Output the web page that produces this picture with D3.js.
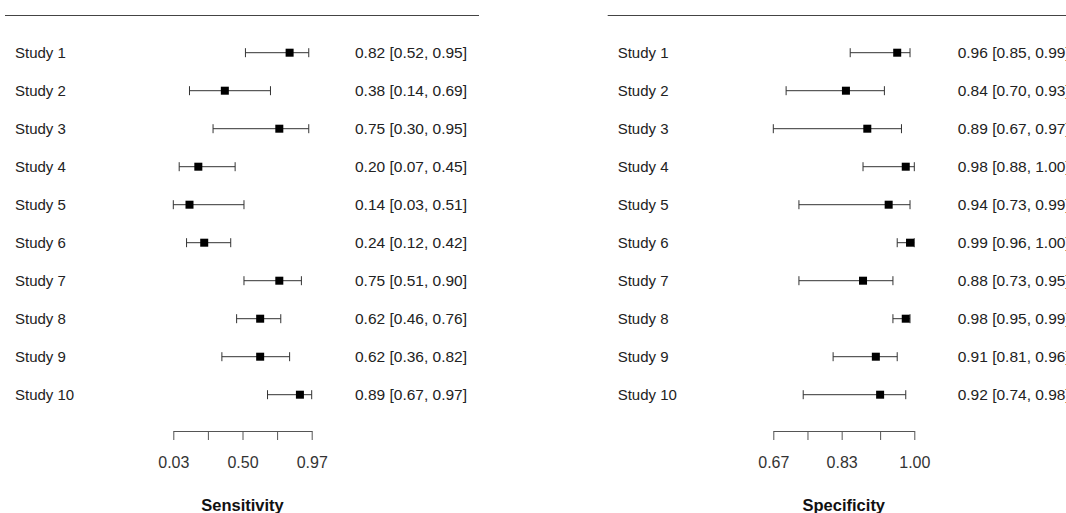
<!DOCTYPE html>
<html>
<head>
<meta charset="utf-8">
<script src="https://cdn.jsdelivr.net/npm/d3@7"></script>
<style>
  body { margin: 0; background: #fff; overflow: hidden; }
  text { font-family: "Liberation Sans", Arial, sans-serif; }
</style>
</head>
<body>
<div id="chart"></div>
<script>

// studies, point estimates and 95% CIs
const studies = ["Study 1", "Study 2", "Study 3", "Study 4", "Study 5",
                 "Study 6", "Study 7", "Study 8", "Study 9", "Study 10"];

const sensEst   = [0.82, 0.38, 0.75, 0.20, 0.14, 0.24, 0.75, 0.62, 0.62, 0.89];
const sensLower = [0.52, 0.14, 0.30, 0.07, 0.03, 0.12, 0.51, 0.46, 0.36, 0.67];
const sensUpper = [0.95, 0.69, 0.95, 0.45, 0.51, 0.42, 0.90, 0.76, 0.82, 0.97];

const specEst   = [0.96, 0.84, 0.89, 0.98, 0.94, 0.99, 0.88, 0.98, 0.91, 0.92];
const specLower = [0.85, 0.70, 0.67, 0.88, 0.73, 0.96, 0.73, 0.95, 0.81, 0.74];
const specUpper = [0.99, 0.93, 0.97, 1.00, 0.99, 1.00, 0.95, 0.99, 0.96, 0.98];

const sensTicks = [0.03, 0.265, 0.50, 0.735, 0.97];
const sensTickLabels = ["0.03", "", "0.50", "", "0.97"];
const specTicks = [0.67, 0.75, 0.83, 0.92, 1.00];
const specTickLabels = ["0.67", "", "0.83", "", "1.00"];

const width = 1066, height = 513;
const fmt = d3.format(".2f");

const svg = d3.select("#chart").append("svg")
    .attr("width", width)
    .attr("height", height);

// row positions
let y = d3.scalePoint()
    .domain(studies)
    .range([52.7, 394.7]);

function drawPanel(cfg) {
    let g = svg.append("g").attr("class", "panel");

    let x = d3.scaleLinear()
        .domain([cfg.ticks[0], cfg.ticks[cfg.ticks.length - 1]])
        .range(cfg.xRange);

    let rows = studies.map((s, i) => ({
        study: s, est: cfg.est[i], lo: cfg.lower[i], hi: cfg.upper[i]
    }));

    // top rule
    g.append("line")
        .attr("x1", cfg.rule[0]).attr("x2", cfg.rule[1])
        .attr("y1", 15.5).attr("y2", 15.5)
        .attr("stroke", "#444").attr("stroke-width", 1);

    // study labels
    g.selectAll("text.study")
        .data(rows)
        .enter().append("text")
        .attr("class", "study")
        .attr("x", cfg.labelX)
        .attr("y", d => y(d.study) + 5.5)
        .attr("font-size", 15)
        .attr("fill", "#222")
        .text(d => d.study);

    // estimate text
    g.selectAll("text.value")
        .data(rows)
        .enter().append("text")
        .attr("class", "value")
        .attr("x", cfg.valueX)
        .attr("y", d => y(d.study) + 5.5)
        .attr("font-size", 15.5)
        .attr("fill", "#222")
        .text(d => `${fmt(d.est)} [${fmt(d.lo)}, ${fmt(d.hi)}]`);

    let ci = g.selectAll("g.ci")
        .data(rows)
        .enter().append("g")
        .attr("class", "ci")
        .attr("stroke", "#333")
        .attr("stroke-width", 1);

    ci.append("line")
        .attr("x1", d => x(d.lo)).attr("x2", d => x(d.hi))
        .attr("y1", d => y(d.study)).attr("y2", d => y(d.study));
    ci.append("line")
        .attr("x1", d => x(d.lo)).attr("x2", d => x(d.lo))
        .attr("y1", d => y(d.study) - 4.5).attr("y2", d => y(d.study) + 4.5);
    ci.append("line")
        .attr("x1", d => x(d.hi)).attr("x2", d => x(d.hi))
        .attr("y1", d => y(d.study) - 4.5).attr("y2", d => y(d.study) + 4.5);

    g.selectAll("rect.est")
        .data(rows)
        .enter().append("rect")
        .attr("class", "est")
        .attr("x", d => x(d.est) - 4)
        .attr("y", d => y(d.study) - 4)
        .attr("width", 8)
        .attr("height", 8)
        .attr("fill", "#000");

    // axis
    let axis = d3.axisBottom(x)
        .tickValues(cfg.ticks)
        .tickSize(9)
        .tickSizeOuter(0)
        .tickPadding(17)
        .tickFormat((d, i) => cfg.tickLabels[i]);

    let ax = g.append("g")
        .attr("transform", "translate(0, 431)")
        .call(axis);
    ax.select(".domain").attr("stroke", "#555");
    ax.selectAll(".tick line").attr("stroke", "#555");
    ax.selectAll(".tick text")
        .attr("font-size", 16)
        .attr("font-family", "Liberation Sans, Arial, sans-serif")
        .attr("fill", "#333");

    g.append("text")
        .attr("x", (cfg.xRange[0] + cfg.xRange[1]) / 2)
        .attr("y", 510.5)
        .attr("text-anchor", "middle")
        .attr("font-size", 16.5)
        .attr("font-weight", "bold")
        .attr("fill", "#111")
        .text(cfg.title);
}

drawPanel({
    est: sensEst, lower: sensLower, upper: sensUpper,
    ticks: sensTicks, tickLabels: sensTickLabels,
    xRange: [173.3, 311.7], rule: [5, 479],
    labelX: 15, valueX: 355, title: "Sensitivity"
});

drawPanel({
    est: specEst, lower: specLower, upper: specUpper,
    ticks: specTicks, tickLabels: specTickLabels,
    xRange: [773.3, 914.3], rule: [607.7, 1066],
    labelX: 617.7, valueX: 957.7, title: "Specificity"
});

</script>
</body>
</html>
